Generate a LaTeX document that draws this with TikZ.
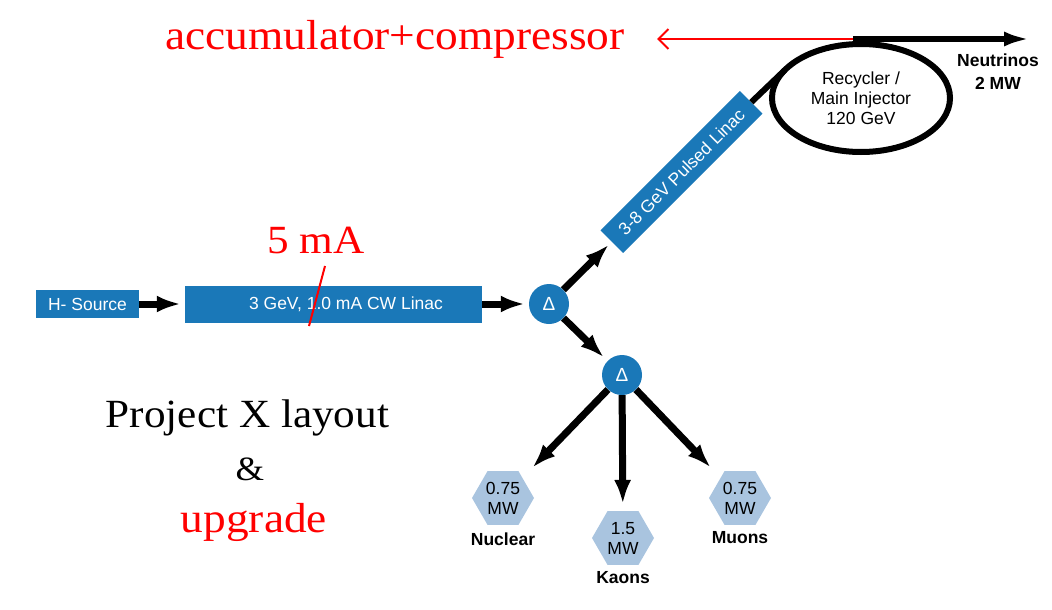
\documentclass[tikz,border=0pt]{standalone}
\usepackage{fontspec}
\setsansfont{Liberation Sans}
\newfontfamily\remarkfont[FakeStretch=1.08]{Liberation Serif}
\usepackage{tikz}
\usetikzlibrary{arrows.meta,shapes.geometric}
\definecolor{linacblue}{HTML}{1A78B8}
\definecolor{hexblue}{HTML}{A9C4DF}
\definecolor{notered}{HTML}{FF0000}
\tikzset{%
    >={Latex[length=24pt,width=17pt]},
    beam/.style={line width=7pt,->},
    block/.style={fill=linacblue,text=white,inner sep=0pt,font=\sffamily\fontsize{17.5}{20}\selectfont},
    blocktext/.style={text=white,inner sep=0pt,font=\sffamily\fontsize{17.5}{20}\selectfont},
    junction/.style={circle,fill=linacblue,text=white,minimum size=40pt,inner sep=0pt,font=\sffamily\fontsize{19}{20}\selectfont},
    ring/.style={ellipse,draw,line width=6pt,minimum width=178pt,minimum height=108pt,inner sep=0pt,outer sep=0pt,align=center,font=\sffamily\fontsize{17.5}{20}\selectfont},
    target/.style={regular polygon,regular polygon sides=6,fill=hexblue,minimum size=62pt,inner sep=0pt,align=center,font=\sffamily\fontsize{17.5}{20}\selectfont},
    tag/.style={align=center,inner sep=0pt,font=\sffamily\bfseries\fontsize{17.5}{23}\selectfont},
    remark/.style={anchor=base,inner sep=0pt,font=\remarkfont\fontsize{42}{48}\selectfont},
    accline/.style={notered,line width=2pt,-{Straight Barb[length=10pt,width=20pt]}}
}
% #1 name, #2 x, #3 y, #4 power, #5 label y, #6 label
\newcommand\PXTarget[6]{%
    \node[target] (#1) at (#2,#3) {#4};
    \node[tag] (#1-tag) at (#2,#5) {#6}
}

\begin{document}
\begin{tikzpicture}[x=1pt,y=-1pt]
      \useasboundingbox (0,0) rectangle (1052,610);

      \node[block,minimum width=103pt,minimum height=28pt] (src) at (87.5,304) {H- Source};
      \node[block,minimum width=297pt,minimum height=37pt] (cwlinac) at (333.5,304) {};
      \node[blocktext] (cwtext) at (346,304) {3 GeV, 1.0 mA CW Linac};

      \node[junction] (deltaA) at (549,304) {Δ};
      \node[junction] (deltaB) at (622,375) {Δ};

      \node[block,minimum width=197pt,minimum height=32pt,rotate=45] (pulsed) at (681.5,172) {3-8 GeV Pulsed Linac};
      \node[ring] (ring) at (861,98) {Recycler /\\Main Injector\\120 GeV};
      \node[tag] (nu) at (998,72) {Neutrinos\\2 MW};

      \PXTarget{hexNuc}{503}{498}{0.75\\MW}{539}{Nuclear};
      \PXTarget{hexKaon}{623}{538}{1.5\\MW}{578}{Kaons};
      \PXTarget{hexMuon}{740}{498}{0.75\\MW}{538}{Muons};

      \coordinate (mergePt) at (853,39);
      \coordinate (nuTip) at (1030,39);
      \coordinate (accTip) at (657,39);
      \coordinate (slashTop) at (325,266);
      \coordinate (slashBot) at (309,326);

      \draw[beam,shorten >=4pt] (src) -- (cwlinac);
      \draw[beam,shorten >=4pt] (cwlinac) -- (deltaA);
      \draw[beam,shorten >=4pt] (deltaA) -- (pulsed.west);
      \draw[beam,shorten >=5pt] (deltaA) -- (deltaB);
      \draw[beam,shorten >=14pt] (deltaB) -- (hexNuc);
      \draw[beam,shorten >=7pt] (deltaB) -- (hexKaon);
      \draw[beam,shorten >=14pt] (deltaB) -- (hexMuon);

      \draw[line width=6pt] (pulsed.east) -- (ring.160);
      \draw[line width=6pt,-{Latex[length=26pt,width=15pt]}] (mergePt) -- (nuTip);
      \draw[accline] (mergePt) -- (accTip);

      \begin{scope}[text=notered]
          \node[remark] (acc) at (395,49) {accumulator+compressor};
          \node[remark,font=\remarkfont\fontsize{40}{48}\selectfont] (current) at (316,253) {5 mA};
          \node[remark] (upg) at (254,532) {upgrade};
      \end{scope}
      \draw[notered,line width=2pt] (slashTop) -- (slashBot);

      \node[remark,font=\remarkfont\fontsize{40}{48}\selectfont] (title) at (247.5,427) {Project X layout};
      \node[remark,font=\remarkfont\fontsize{34}{40}\selectfont] (amp) at (250,480) {\&};
\end{tikzpicture}
\end{document}
